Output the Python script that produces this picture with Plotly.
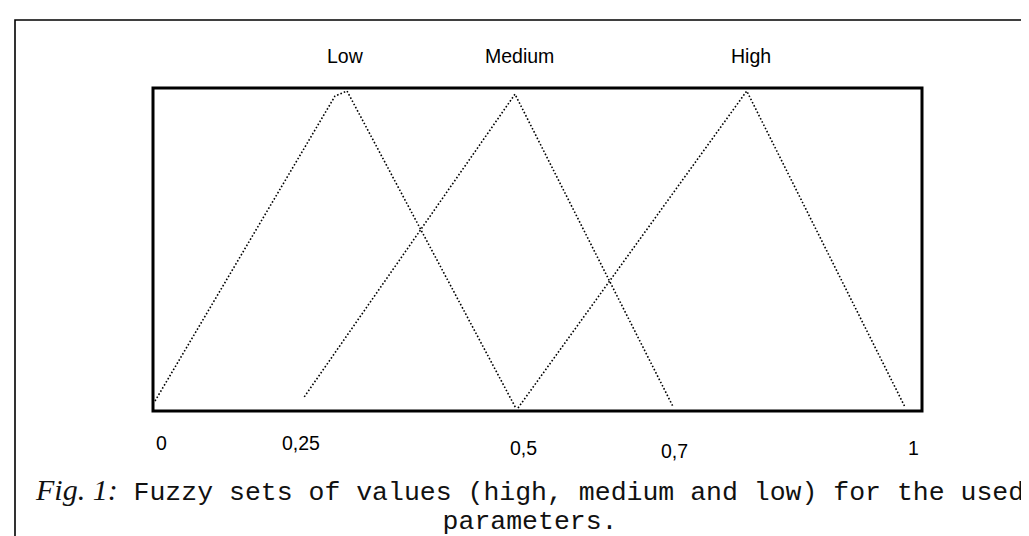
import plotly.graph_objects as go

# ---- data ----
low_x = [0.0, 0.240, 0.256, 0.481]
low_y = [0.022, 0.984, 1.0, 0.0]
medium_x = [0.199, 0.480, 0.691]
medium_y = [0.035, 0.990, 0.003]
high_x = [0.484, 0.789, 1.0]
high_y = [0.0, 1.0, 0.003]

set_names = ["Low", "Medium", "High"]
tick_labels = ["0", "0,25", "0,5", "0,7", "1"]
tick_label_x = [0.008, 0.195, 0.491, 0.692, 1.011]

caption_fig = "Fig. 1:"
caption_line1 = "Fuzzy sets of values (high, medium and low) for the used"
caption_line2 = "parameters."

W, H = 1029, 536
L, R, T, B = 145, 914, 80, 403
pw, ph = R - L, B - T

fig = go.Figure()
line_style = dict(color="black", width=1.6, dash="1.6px,2px")
series = [(low_x, low_y), (medium_x, medium_y), (high_x, high_y)]
for name, (xs, ys) in zip(set_names, series):
    fig.add_trace(go.Scatter(x=xs, y=ys, mode="lines", name=name,
                             line=line_style, hoverinfo="skip"))

# axis ranges: data 0 -> px 147, data 1 -> px 897 ; y 0 -> px 400, y 1 -> px 83
sx = 750.0
x0 = -(147 - L) / sx
x1 = x0 + pw / sx
sy = 317.0
y0 = -(B - 400) / sy
y1 = y0 + ph / sy

fig.update_xaxes(range=[x0, x1], visible=False, showgrid=False, zeroline=False)
fig.update_yaxes(range=[y0, y1], visible=False, showgrid=False, zeroline=False)

shapes = [
    # inner box
    dict(type="rect", xref="paper", yref="paper", x0=0, x1=1, y0=0, y1=1,
         line=dict(color="black", width=3)),
    # outer frame (extends beyond the picture to the right and bottom)
    dict(type="rect", xref="paper", yref="paper",
         x0=(7 - L) / pw, x1=(1060 - L) / pw,
         y0=(B - 560) / ph, y1=(B - 12) / ph,
         line=dict(color="black", width=1.6)),
]

annotations = []
label_font = dict(family="Liberation Sans, Arial", size=19.5, color="black")
peaks = [(low_x[1] + low_x[2]) / 2, medium_x[1], high_x[1]]
for name, px in zip(set_names, peaks):
    annotations.append(dict(x=px, xref="x", y=1, yref="paper", yshift=32,
                            text=name, showarrow=False, font=label_font,
                            xanchor="center", yanchor="middle", xshift=4))

tick_yshift = [-32, -32, -37, -40, -37]
for lab, tx, ys in zip(tick_labels, tick_label_x, tick_yshift):
    annotations.append(dict(x=tx, xref="x", y=0, yref="paper", yshift=ys,
                            text=lab, showarrow=False, font=label_font,
                            xanchor="center", yanchor="middle"))

mono = '<span style="font-size:26.5px">'
caption = ('<span style="font-family:\'Liberation Serif\', \'Times New Roman\';'
           'font-size:30px;font-style:italic">' + caption_fig + '</span>'
           + mono + ' ' + caption_line1 + '</span><br>'
           + mono + caption_line2 + '</span>')
annotations.append(dict(x=(26 - L) / pw, xref="paper", y=(B - 497) / ph,
                        yref="paper", text=caption, showarrow=False,
                        xanchor="left", yanchor="middle", align="center",
                        borderpad=0,
                        font=dict(family="Liberation Mono, Courier New",
                                  size=22, color="#111")))

fig.update_layout(width=W, height=H, margin=dict(l=L, r=W - R, t=T, b=H - B),
                  paper_bgcolor="white", plot_bgcolor="white",
                  showlegend=False, shapes=shapes, annotations=annotations)

fig.write_html("out.html", config={"displayModeBar": False})
